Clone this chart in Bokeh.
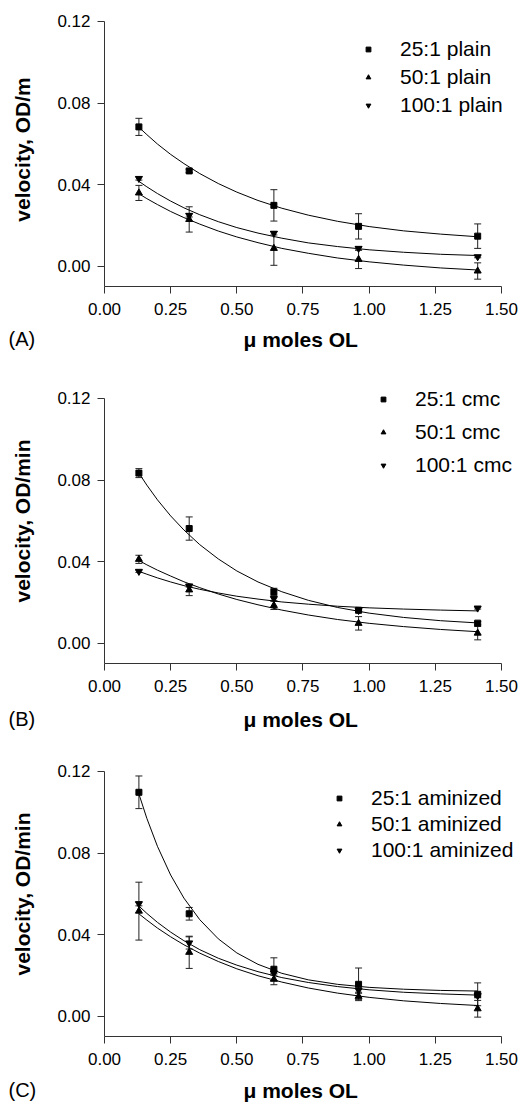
from bokeh.plotting import figure
from bokeh.models import (Range1d, FixedTicker, PrintfTickFormatter, ColumnDataSource,
                          Whisker, TeeHead, Title, Legend, LegendItem)
from bokeh.layouts import column
from bokeh.embed import file_html
from bokeh.resources import INLINE

FONT = "Liberation Sans"

# ---------------- data ----------------
conc = [0.13, 0.32, 0.64, 0.96, 1.41]          # micro moles OL
x_ticks = [0.0, 0.25, 0.5, 0.75, 1.0, 1.25, 1.5]
y_ticks = [0.0, 0.04, 0.08, 0.12]

# x positions at which the fitted curves were read
fit_x = [0.13, 0.16, 0.20, 0.25, 0.30, 0.36, 0.43, 0.50, 0.58, 0.67, 0.77, 0.88, 1.00, 1.13, 1.27, 1.41]

# Panel A (plain)
a_names = ["25:1 plain", "50:1 plain", "100:1 plain"]
a25_y = [0.0683, 0.0467, 0.0298, 0.0195, 0.0147]
a25_e = [0.0042, 0.0008, 0.0077, 0.0062, 0.0060]
a50_y = [0.0359, 0.0229, 0.0087, 0.0033, -0.0024]
a50_e = [0.0037, 0.0062, 0.0083, 0.0045, 0.0040]
a100_y = [0.0430, 0.0249, 0.0161, 0.0087, 0.0046]
a100_e = [0.0008, 0.0008, 0.0008, 0.0008, 0.0005]
a25_fit = [0.0681, 0.0645, 0.0599, 0.0548, 0.0503, 0.0454, 0.0405, 0.0363, 0.0322, 0.0284, 0.0250, 0.0220, 0.0194, 0.0173, 0.0157, 0.0144]
a50_fit = [0.0355, 0.0331, 0.0302, 0.0268, 0.0238, 0.0206, 0.0172, 0.0143, 0.0115, 0.0087, 0.0063, 0.0040, 0.0021, 0.0005, -0.0009, -0.0019]
a100_fit = [0.0416, 0.0389, 0.0356, 0.0319, 0.0286, 0.0252, 0.0218, 0.0189, 0.0162, 0.0137, 0.0114, 0.0096, 0.0080, 0.0068, 0.0058, 0.0052]

# Panel B (cmc)
b_names = ["25:1 cmc", "50:1 cmc", "100:1 cmc"]
b25_y = [0.0834, 0.0562, 0.0251, 0.0161, 0.0098]
b25_e = [0.0022, 0.0057, 0.0018, 0.0008, 0.0008]
b50_y = [0.0411, 0.0261, 0.0185, 0.0097, 0.0049]
b50_e = [0.0020, 0.0028, 0.0020, 0.0033, 0.0033]
b100_y = [0.0352, 0.0280, 0.0218, 0.0160, 0.0172]
b100_e = [0.0005, 0.0005, 0.0010, 0.0005, 0.0005]
b25_fit = [0.0834, 0.0775, 0.0703, 0.0624, 0.0555, 0.0483, 0.0413, 0.0354, 0.0300, 0.0252, 0.0210, 0.0175, 0.0147, 0.0126, 0.0110, 0.0099]
b50_fit = [0.0405, 0.0384, 0.0358, 0.0329, 0.0301, 0.0272, 0.0241, 0.0214, 0.0188, 0.0162, 0.0138, 0.0116, 0.0097, 0.0081, 0.0067, 0.0056]
b100_fit = [0.0352, 0.0338, 0.0320, 0.0300, 0.0282, 0.0264, 0.0246, 0.0230, 0.0216, 0.0202, 0.0191, 0.0181, 0.0173, 0.0167, 0.0162, 0.0158]

# Panel C (aminized)
c_names = ["25:1 aminized", "50:1 aminized", "100:1 aminized"]
c25_y = [0.1098, 0.0502, 0.0230, 0.0156, 0.0107]
c25_e = [0.0080, 0.0031, 0.0056, 0.0080, 0.0056]
c50_y = [0.0515, 0.0313, 0.0181, 0.0097, 0.0036]
c50_e = [0.0142, 0.0079, 0.0027, 0.0015, 0.0041]
c100_y = [0.0551, 0.0359, 0.0211, 0.0127, 0.0100]
c100_e = [0.0010, 0.0030, 0.0010, 0.0010, 0.0010]
c25_fit = [0.1090, 0.0970, 0.0833, 0.0692, 0.0579, 0.0473, 0.0379, 0.0310, 0.0254, 0.0210, 0.0178, 0.0156, 0.0141, 0.0132, 0.0126, 0.0123]
c50_fit = [0.0502, 0.0471, 0.0432, 0.0389, 0.0350, 0.0309, 0.0268, 0.0232, 0.0198, 0.0167, 0.0138, 0.0113, 0.0092, 0.0075, 0.0062, 0.0052]
c100_fit = [0.0540, 0.0504, 0.0460, 0.0412, 0.0370, 0.0326, 0.0284, 0.0250, 0.0218, 0.0189, 0.0165, 0.0145, 0.0129, 0.0117, 0.0109, 0.0103]

markers = ["square", "triangle", "inverted_triangle"]
marker_sizes = [6, 7, 7]

panels = [
    dict(tag="(A)", ytitle="velocity, OD/m", names=a_names,
         ys=[a25_y, a50_y, a100_y], es=[a25_e, a50_e, a100_e], fits=[a25_fit, a50_fit, a100_fit],
         height=370, btop=12, bbot=84, yend=0.124415, leg_loc=(258, 168), leg_sp=2,
         s1=-66, s2=-65),
    dict(tag="(B)", ytitle="velocity, OD/min", names=b_names,
         ys=[b25_y, b50_y, b100_y], es=[b25_e, b50_e, b100_e], fits=[b25_fit, b50_fit, b100_fit],
         height=365, btop=8, bbot=72, yend=0.129811, leg_loc=(273, 185), leg_sp=7,
         s1=-72, s2=-71),
    dict(tag="(C)", ytitle="velocity, OD/min", names=c_names,
         ys=[c25_y, c50_y, c100_y], es=[c25_e, c50_e, c100_e], fits=[c25_fit, c50_fit, c100_fit],
         height=368, btop=16, bbot=67, yend=0.129811, leg_loc=(229, 173), leg_sp=0,
         s1=-68, s2=-67),
]

figs = []
for pn in panels:
    p = figure(width=522, height=pn["height"], output_backend="svg", toolbar_location=None,
               x_range=Range1d(0, 1.5756), y_range=Range1d(-0.01, pn["yend"]),
               min_border_left=104, min_border_right=1,
               min_border_top=pn["btop"], min_border_bottom=pn["bbot"])
    p.outline_line_color = None
    p.grid.visible = False
    for ax in (p.xaxis[0], p.yaxis[0]):
        ax.axis_line_color = "#333333"
        ax.major_tick_line_color = "#333333"
        ax.major_tick_out = 7
        ax.major_tick_in = 0
        ax.minor_tick_line_color = None
        ax.major_label_text_font = FONT
        ax.major_label_text_font_size = "17px"
        ax.major_label_text_color = "black"
        ax.formatter = PrintfTickFormatter(format="%.2f")
    p.xaxis[0].ticker = FixedTicker(ticks=x_ticks)
    p.yaxis[0].ticker = FixedTicker(ticks=y_ticks)
    p.xaxis[0].bounds = (0, 1.5)
    p.yaxis[0].bounds = (-0.01, 0.12)
    p.yaxis[0].major_label_standoff = 7
    p.xaxis[0].major_label_standoff = 9

    # y-axis title
    p.yaxis[0].axis_label = pn["ytitle"]
    p.yaxis[0].axis_label_text_font = FONT
    p.yaxis[0].axis_label_text_font_size = "21px"
    p.yaxis[0].axis_label_text_font_style = "bold"
    p.yaxis[0].axis_label_text_color = "black"
    p.yaxis[0].axis_label_standoff = 20

    items = []
    for i in range(3):
        p.line(fit_x, pn["fits"][i], line_color="black", line_width=1)
        ys = pn["ys"][i]
        es = pn["es"][i]
        src = ColumnDataSource(dict(x=conc, y=ys,
                                    lo=[y - e for y, e in zip(ys, es)],
                                    hi=[y + e for y, e in zip(ys, es)]))
        w = Whisker(source=src, base="x", lower="lo", upper="hi",
                    line_color="#222222", line_width=1,
                    upper_head=TeeHead(size=7, line_color="#222222", line_width=1),
                    lower_head=TeeHead(size=7, line_color="#222222", line_width=1))
        p.add_layout(w)
        r = p.scatter("x", "y", source=src, marker=markers[i], size=marker_sizes[i],
                      fill_color="black", line_color="black")
        items.append(LegendItem(label=pn["names"][i], renderers=[r]))

    leg = Legend(items=items, location=pn["leg_loc"], padding=0, margin=0,
                 spacing=pn["leg_sp"], glyph_width=12, glyph_height=26, label_height=26,
                 label_standoff=26, label_text_font=FONT, label_text_font_size="21px",
                 label_text_color="black", border_line_color=None, background_fill_alpha=0)
    p.add_layout(leg)

    # x-axis title and panel tag (below the axis)
    p.add_layout(Title(text="\u03bc moles OL", align="left", offset=139, vertical_align="bottom",
                       standoff=pn["s1"], text_font=FONT, text_font_size="21px",
                       text_font_style="bold", text_color="black"), "below")
    p.add_layout(Title(text=pn["tag"], align="left", offset=-96, vertical_align="bottom",
                       standoff=pn["s2"], text_font=FONT, text_font_size="20px",
                       text_font_style="normal", text_color="black"), "below")
    figs.append(p)

layout = column(*figs, spacing=0)
open("out.html", "w").write(file_html(layout, INLINE))
